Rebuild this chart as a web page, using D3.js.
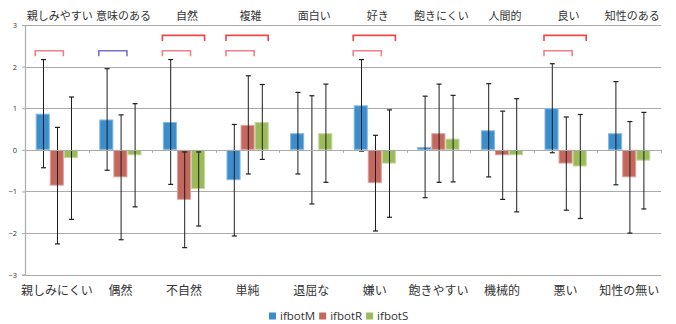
<!DOCTYPE html>
<html>
<head>
<meta charset="utf-8">
<script src="https://cdn.jsdelivr.net/npm/d3@7/dist/d3.min.js"></script>
<style>
  html, body { margin: 0; padding: 0; background: #fff; }
  svg { display: block; }
</style>
</head>
<body>
<div id="chart"></div>
<script>
// Semantic-differential pairs: positive pole (top) and negative pole (bottom)
const topLabels = ["親しみやすい", "意味のある", "自然", "複雑", "面白い", "好き", "飽きにくい", "人間的", "良い", "知性のある"];
const bottomLabels = ["親しみにくい", "偶然", "不自然", "単純", "退屈な", "嫌い", "飽きやすい", "機械的", "悪い", "知性の無い"];
const series = ["ifbotM", "ifbotR", "ifbotS"];

// Mean ratings per robot
const meanM = [0.87, 0.73, 0.67, -0.73, 0.40, 1.07, 0.07, 0.47, 1.00, 0.40];
const meanR = [-0.86, -0.66, -1.20, 0.60, 0.00, -0.80, 0.40, -0.13, -0.33, -0.66];
const meanS = [-0.20, -0.13, -0.94, 0.67, 0.40, -0.33, 0.27, -0.13, -0.40, -0.26];

// Standard deviations per robot
const sdM = [1.30, 1.22, 1.50, 1.34, 0.98, 1.10, 1.22, 1.12, 1.07, 1.24];
const sdR = [1.40, 1.50, 1.15, 1.18, 1.30, 1.15, 1.18, 1.06, 1.12, 1.34];
const sdS = [1.47, 1.24, 0.89, 0.90, 1.18, 1.29, 1.04, 1.36, 1.25, 1.16];

// Significant pairwise differences: category index, the two robots compared, level
const sigCat = [0, 1, 2, 2, 3, 3, 5, 5, 8, 8];
const sigFrom = ["ifbotM", "ifbotM", "ifbotM", "ifbotM", "ifbotM", "ifbotM", "ifbotM", "ifbotM", "ifbotM", "ifbotM"];
const sigTo = ["ifbotR", "ifbotR", "ifbotR", "ifbotS", "ifbotR", "ifbotS", "ifbotR", "ifbotS", "ifbotR", "ifbotS"];
const sigLevel = ["p05", "p10", "p05", "p01", "p05", "p01", "p05", "p01", "p05", "p01"];

const yTicks = [-3, -2, -1, 0, 1, 2, 3];

const W = 676, H = 324;
const colors = { ifbotM: "#3C8DCC", ifbotR: "#C3675F", ifbotS: "#9BBB59" };
const edges = { ifbotM: "#86B9E2", ifbotR: "#DCA29C", ifbotS: "#C4D8A0" };
const sigColors = { p01: "#EE4646", p05: "#F28088", p10: "#7474D0" };

const means = { ifbotM: meanM, ifbotR: meanR, ifbotS: meanS };
const sds = { ifbotM: sdM, ifbotR: sdR, ifbotS: sdS };

const svg = d3.select("#chart").append("svg").attr("width", W).attr("height", H);
svg.append("rect").attr("width", W).attr("height", H).attr("fill", "#fff");

const plotL = 25, plotR = 661, plotT = 25, plotB = 274.7;

const y = d3.scaleLinear().domain([-3, 3]).range([plotB, plotT]);
const x = d3.scaleBand().domain(d3.range(topLabels.length)).range([plotL, plotR]).padding(0);
const xs = d3.scaleBand().domain(series).range([0, x.bandwidth()]).paddingInner(0).paddingOuter(0.76);

const gridColor = "#ABABAB";

// Horizontal gridlines
svg.append("g").selectAll("line")
  .data(yTicks.filter(t => t !== 0))
  .join("line")
  .attr("x1", plotL).attr("x2", plotR)
  .attr("y1", d => Math.round(y(d)) + 0.5).attr("y2", d => Math.round(y(d)) + 0.5)
  .attr("stroke", gridColor).attr("stroke-width", 1.2);

// Value axis
const yAxis = d3.axisLeft(y).tickValues(yTicks).tickSize(3).tickPadding(5).tickFormat(d3.format("d"));
const gy = svg.append("g").attr("transform", `translate(${plotL},0)`).call(yAxis);
gy.select(".domain").attr("stroke", gridColor).attr("stroke-width", 1.2);
gy.selectAll(".tick line").attr("stroke", gridColor);
gy.selectAll(".tick text").attr("fill", "#333").attr("font-family", "'Open Sans', sans-serif").attr("font-size", 7.5);

// Bars
const groups = svg.append("g").selectAll("g")
  .data(d3.range(topLabels.length))
  .join("g")
  .attr("transform", i => `translate(${x(i)},0)`);

groups.selectAll("rect")
  .data(i => series.map(s => ({ s, v: means[s][i] })))
  .join("rect")
  .attr("x", d => xs(d.s) + 0.5)
  .attr("width", xs.bandwidth() - 1)
  .attr("y", d => Math.min(y(d.v), y(0)) + 0.5)
  .attr("height", d => Math.max(0, Math.abs(y(d.v) - y(0)) - 1))
  .attr("fill", d => colors[d.s])
  .attr("stroke", d => edges[d.s])
  .attr("stroke-width", d => Math.abs(y(d.v) - y(0)) > 2 ? 1 : 0);

// Category axis along zero
const gx = svg.append("g");
gx.append("line")
  .attr("x1", plotL).attr("x2", plotR)
  .attr("y1", Math.round(y(0)) + 0.5).attr("y2", Math.round(y(0)) + 0.5)
  .attr("stroke", gridColor).attr("stroke-width", 1.2);
gx.selectAll("line.tk")
  .data(d3.range(1, topLabels.length + 1))
  .join("line").attr("class", "tk")
  .attr("x1", i => Math.round(plotL + i * x.step()) + 0.5)
  .attr("x2", i => Math.round(plotL + i * x.step()) + 0.5)
  .attr("y1", y(0)).attr("y2", y(0) + 3)
  .attr("stroke", gridColor);

// Error bars (mean ± SD)
const err = groups.selectAll("g.err")
  .data(i => series.map(s => ({ s, m: means[s][i], sd: sds[s][i] })))
  .join("g").attr("class", "err")
  .attr("transform", d => `translate(${Math.round(xs(d.s) + xs.bandwidth() / 2) + 0.5},0)`);
err.append("line")
  .attr("y1", d => y(d.m + d.sd)).attr("y2", d => y(d.m - d.sd))
  .attr("stroke", "#1E1E1E").attr("stroke-width", 1);
err.selectAll("line.cap")
  .data(d => [d.m + d.sd, d.m - d.sd])
  .join("line").attr("class", "cap")
  .attr("x1", -2.5).attr("x2", 2.5)
  .attr("y1", v => y(v)).attr("y2", v => y(v))
  .attr("stroke", "#1E1E1E").attr("stroke-width", 1.2);

// Significance brackets
const bracketLevelY = { ifbotR: 2.38, ifbotS: 2.75 };
svg.append("g").selectAll("path")
  .data(sigCat.map((c, k) => ({ c, from: sigFrom[k], to: sigTo[k], lvl: sigLevel[k] })))
  .join("path")
  .attr("d", d => {
    const x0 = x(d.c) + xs(d.from) - 0.5;
    const x1 = x(d.c) + xs(d.to) + xs.bandwidth() - 0.5;
    const yy = y(bracketLevelY[d.to]);
    return `M${x0},${yy + 5.5}V${yy}H${x1}V${yy + 5.5}`;
  })
  .attr("fill", "none")
  .attr("stroke", d => sigColors[d.lvl])
  .attr("stroke-width", 1.6);

// Pole labels
const labelFont = "'Noto Sans CJK JP', sans-serif";
svg.append("g").selectAll("text")
  .data(topLabels)
  .join("text")
  .attr("x", (d, i) => x(i) + x.bandwidth() / 2 + 3)
  .attr("y", 19.5)
  .attr("text-anchor", "middle")
  .attr("font-family", labelFont).attr("font-size", 11)
  .attr("fill", "#333")
  .text(d => d);

svg.append("g").selectAll("text")
  .data(bottomLabels)
  .join("text")
  .attr("x", (d, i) => x(i) + x.bandwidth() / 2)
  .attr("y", 294.5)
  .attr("text-anchor", "middle")
  .attr("font-family", labelFont).attr("font-size", 12)
  .attr("fill", "#333")
  .text(d => d);

// Legend
const lg = svg.append("g");
const items = lg.selectAll("g").data(series).join("g");
items.append("rect").attr("width", 7).attr("height", 7).attr("y", 312.5)
  .attr("fill", d => colors[d]);
items.append("text").attr("x", 11).attr("y", 319.5)
  .attr("font-family", "'Open Sans', sans-serif").attr("font-size", 11.5)
  .attr("fill", "#333").text(d => d);
let cx = 0;
const offs = [];
items.each(function () {
  offs.push(cx);
  cx += 11 + this.querySelector("text").getComputedTextLength() + 4;
});
const total = cx - 4;
items.attr("transform", (d, i) => `translate(${offs[i]},0)`);
lg.attr("transform", `translate(${Math.round(339 - total / 2)},0)`);
</script>
</body>
</html>
